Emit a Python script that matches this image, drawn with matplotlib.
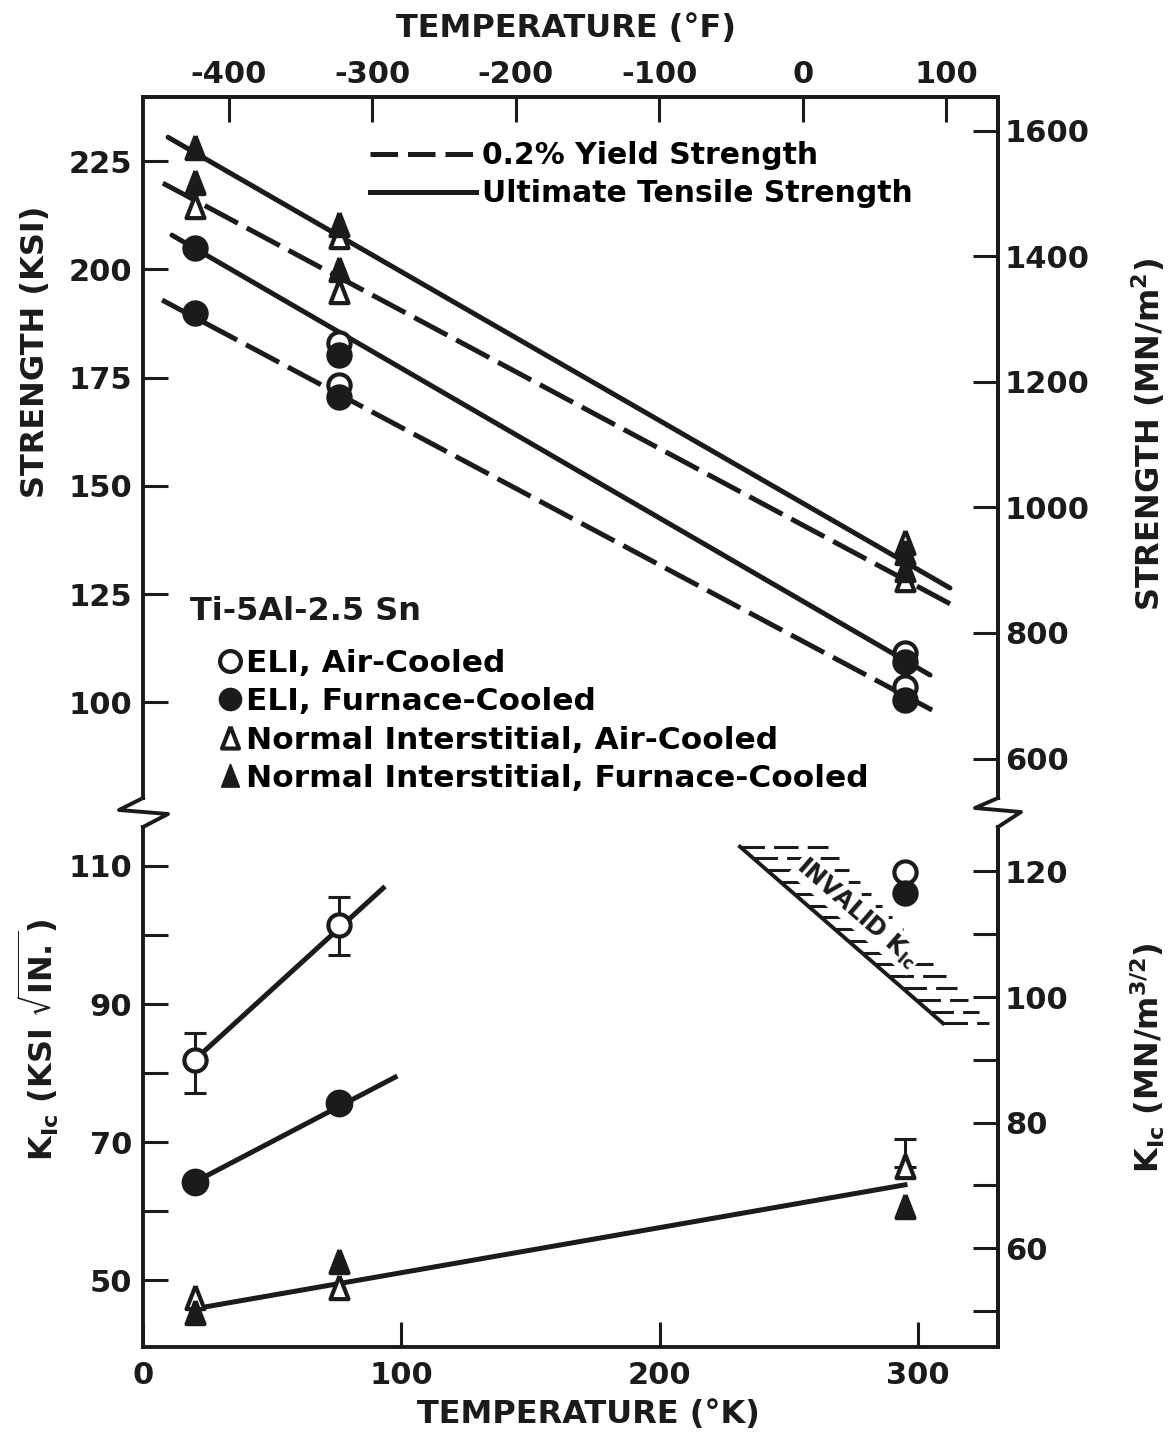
import numpy as np
import matplotlib
matplotlib.use("Agg")
import matplotlib.pyplot as plt
from matplotlib.lines import Line2D

plt.rcParams['font.family'] = ['DejaVu Sans']
plt.rcParams['font.weight'] = 'bold'
plt.rcParams['mathtext.fontset'] = 'dejavusans'
plt.rcParams['mathtext.default'] = 'bf'
plt.rcParams['axes.unicode_minus'] = False

# ---- data ----
# strength, ksi; temperatures in K
uts_eli_ac_T = [76, 295];        uts_eli_ac = [183.0, 111.4]
uts_eli_fc_T = [20, 76, 295];    uts_eli_fc = [204.9, 180.2, 109.3]
uts_ni_ac_T = [76, 295];         uts_ni_ac = [207.5, 136.8]
uts_ni_fc_T = [20, 76, 295];     uts_ni_fc = [228.0, 210.2, 134.5]
ys_eli_ac_T = [76, 295];         ys_eli_ac = [173.3, 103.5]
ys_eli_fc_T = [20, 76, 295];     ys_eli_fc = [189.9, 170.5, 100.5]
ys_ni_ac_T = [20, 76, 295];      ys_ni_ac = [214.4, 194.8, 128.2]
ys_ni_fc_T = [20, 76, 295];      ys_ni_fc = [220.0, 199.8, 130.5]

# fitted trend lines (end points)
uts_ni_line_T = [9.7, 312.4];    uts_ni_line = [230.5, 126.4]
ys_ni_line_T = [7.7, 313.2];     ys_ni_line = [219.9, 122.5]
uts_eli_line_T = [11.2, 304.7];  uts_eli_line = [207.9, 106.3]
ys_eli_line_T = [7.4, 305.5];    ys_eli_line = [192.9, 98.2]

# fracture toughness K_Ic, ksi*sqrt(in)
kic_eli_ac_T = [20, 76];         kic_eli_ac = [81.9, 101.4]
kic_eli_ac_lo = [77.1, 97.1];    kic_eli_ac_hi = [85.8, 105.5]
kic_eli_fc_T = [20, 76];         kic_eli_fc = [64.2, 75.7]
kic_ni_ac_T = [20, 76, 295];     kic_ni_ac = [47.4, 48.8, 66.4]
kic_ni_ac_hi295 = 70.4
kic_ni_fc_T = [20, 76, 295];     kic_ni_fc = [45.2, 52.6, 60.6]
invalid_T = [295];               invalid_ac = [109.1];  invalid_fc = [106.1]

kic_eli_ac_line_T = [20, 93];    kic_eli_ac_line = [81.9, 106.8]
kic_eli_fc_line_T = [20, 97.6];  kic_eli_fc_line = [64.2, 79.4]
kic_ni_line_T = [20.9, 295];     kic_ni_line = [45.9, 63.8]

invalid_edge_T = [231.1, 309.7]; invalid_edge = [112.8, 87.2]

strength_ticks = [100, 125, 150, 175, 200, 225]
mpa_ticks = [600, 800, 1000, 1200, 1400, 1600]
kic_ticks = [50, 70, 90, 110]
kic_minor = [60, 80, 100]
mpam_ticks = [60, 80, 100, 120]
mpam_minor = [50, 70, 90, 110]
tempF_ticks = [-400, -300, -200, -100, 0, 100]
tempK_ticks = [0, 100, 200, 300]

KSI_TO_MPA = 6.89476
KSIIN_TO_MPAM = 1.0988

INK = '#1b1b1b'
W, H = 1173, 1432
fig = plt.figure(figsize=(W / 100, H / 100), dpi=100)


def box(x0, y0, x1, y1):
    return [x0 / W, 1 - y1 / H, (x1 - x0) / W, (y1 - y0) / H]


def fx(x):
    return x / W


def fy(y):
    return 1 - y / H


ax1 = fig.add_axes(box(143, 97, 998, 798))
ax2 = fig.add_axes(box(143, 827, 998, 1347))

ax1.set_xlim(0, 331)
ax2.set_xlim(0, 331)
ax1.set_ylim(77.9, 239.8)
ax2.set_ylim(40.3, 115.65)

tri = [(0, 1.0), (-0.72, -0.85), (0.72, -0.85), (0, 1.0)]
LW = 3.6
DASH = (0, (7.5, 2.0))


def pts(ax, x, y, marker, filled, ms):
    ax.plot(x, y, ls='none', marker=marker, ms=ms, mfc=INK if filled else 'white',
            mec=INK, mew=3.0, zorder=4 if filled else 3)


# strength lines
ax1.plot(uts_ni_line_T, uts_ni_line, color=INK, lw=LW, solid_capstyle='round', zorder=2)
ax1.plot(ys_ni_line_T, ys_ni_line, color=INK, lw=LW, ls=DASH, zorder=2)
ax1.plot(uts_eli_line_T, uts_eli_line, color=INK, lw=LW, solid_capstyle='round', zorder=2)
ax1.plot(ys_eli_line_T, ys_eli_line, color=INK, lw=LW, ls=DASH, zorder=2)

pts(ax1, uts_eli_ac_T, uts_eli_ac, 'o', False, 16)
pts(ax1, ys_eli_ac_T, ys_eli_ac, 'o', False, 16)
pts(ax1, uts_eli_fc_T, uts_eli_fc, 'o', True, 16)
pts(ax1, ys_eli_fc_T, ys_eli_fc, 'o', True, 16)
pts(ax1, uts_ni_ac_T, uts_ni_ac, tri, False, 18)
pts(ax1, ys_ni_ac_T, ys_ni_ac, tri, False, 18)
pts(ax1, uts_ni_fc_T, uts_ni_fc, tri, True, 18)
pts(ax1, ys_ni_fc_T, ys_ni_fc, tri, True, 18)

# toughness
ax2.plot(kic_eli_ac_line_T, kic_eli_ac_line, color=INK, lw=LW, zorder=2)
ax2.plot(kic_eli_fc_line_T, kic_eli_fc_line, color=INK, lw=LW, zorder=2)
ax2.plot(kic_ni_line_T, kic_ni_line, color=INK, lw=LW, zorder=2)

ax2.errorbar(kic_eli_ac_T, kic_eli_ac,
             yerr=[np.subtract(kic_eli_ac, kic_eli_ac_lo), np.subtract(kic_eli_ac_hi, kic_eli_ac)],
             fmt='none', ecolor=INK, elinewidth=2.2, capsize=8, capthick=2.2, zorder=2.5)
ax2.errorbar([kic_ni_ac_T[-1]], [kic_ni_ac[-1]], yerr=[[0], [kic_ni_ac_hi295 - kic_ni_ac[-1]]],
             fmt='none', ecolor=INK, elinewidth=2.2, capsize=8, capthick=2.2, zorder=2.5)

pts(ax2, kic_eli_ac_T, kic_eli_ac, 'o', False, 16)
pts(ax2, invalid_T, invalid_ac, 'o', False, 16)
pts(ax2, kic_eli_fc_T, kic_eli_fc, 'o', True, 17)
pts(ax2, invalid_T, invalid_fc, 'o', True, 16)
pts(ax2, kic_ni_ac_T, kic_ni_ac, tri, False, 18)
pts(ax2, kic_ni_fc_T, kic_ni_fc, tri, True, 18)

# invalid K_Ic region: edge plus short horizontal hatches
ax2.plot(invalid_edge_T, invalid_edge, color=INK, lw=2.8, zorder=2)
n_hatch = 16
for i in range(n_hatch):
    t = i / (n_hatch - 1)
    x0 = invalid_edge_T[0] + t * (invalid_edge_T[1] - invalid_edge_T[0])
    y0 = invalid_edge[0] + t * (invalid_edge[1] - invalid_edge[0])
    length = 34 - 16 * t
    ax2.plot([x0, x0 + length], [y0, y0], color=INK, lw=2.2, ls=(0, (8, 3)), zorder=1.5)
ax2.text(276.5, 103.2, r'INVALID K$_{Ic}$', rotation=-41, fontsize=17, color=INK,
         ha='center', va='center', zorder=1.8,
         bbox=dict(facecolor='white', edgecolor='none', pad=1.5))

# ---- axes styling ----
tk = dict(direction='in', length=18, width=2.2, colors=INK, labelsize=22)
for ax in (ax1, ax2):
    for s in ax.spines.values():
        s.set_linewidth(2.8)
        s.set_color(INK)
ax1.spines['bottom'].set_visible(False)
ax2.spines['top'].set_visible(False)

ax1.tick_params(axis='x', which='both', bottom=False, top=False, labelbottom=False)
ax1.set_yticks(strength_ticks)
ax1.tick_params(axis='y', left=True, right=False, pad=8, **tk)

ax2.set_xticks(tempK_ticks)
ax2.tick_params(axis='x', bottom=True, top=False, pad=10, **tk)
ax2.set_yticks(kic_ticks)
ax2.set_yticks(kic_minor, minor=True)
ax2.tick_params(axis='y', which='both', left=True, right=False, pad=8, **tk)

s1y = ax1.secondary_yaxis('right', functions=(lambda v: v * KSI_TO_MPA, lambda v: v / KSI_TO_MPA))
s1y.set_yticks(mpa_ticks)
s1y.tick_params(pad=5, **tk)
s1y.spines['right'].set_linewidth(2.8)

s1x = ax1.secondary_xaxis('top', functions=(lambda k: k * 9 / 5 - 459.67, lambda f: (f + 459.67) * 5 / 9))
s1x.set_xticks(tempF_ticks)
s1x.tick_params(pad=6, **tk)
s1x.spines['top'].set_linewidth(2.8)

s2y = ax2.secondary_yaxis('right', functions=(lambda v: v * KSIIN_TO_MPAM, lambda v: v / KSIIN_TO_MPAM))
s2y.set_yticks(mpam_ticks)
s2y.set_yticks(mpam_minor, minor=True)
s2y.tick_params(which='both', pad=5, **tk)
s2y.spines['right'].set_linewidth(2.8)

# axis break marks
for xs, ys in (([143, 119, 168, 143], [798, 810, 814, 827]),
               ([998, 975, 1021, 998], [798, 808, 812, 827])):
    fig.add_artist(Line2D([fx(v) for v in xs], [fy(v) for v in ys], color=INK, lw=2.8))

# axis titles
lab = dict(fontsize=23, color=INK, ha='center', va='center')
fig.text(fx(566), fy(28), 'TEMPERATURE (°F)', **lab)
fig.text(fx(588), fy(1414), 'TEMPERATURE (°K)', **lab)
fig.text(fx(36), fy(352), 'STRENGTH (KSI)', rotation=90, **lab)
fig.text(fx(1148), fy(434), r'STRENGTH (MN/m$^2$)', rotation=90, **lab)
fig.text(fx(38), fy(1040), r'K$_{Ic}$ (KSI $\sqrt{IN.}$)', rotation=90, **lab)
fig.text(fx(1148), fy(1058), r'K$_{Ic}$ (MN/m$^{3/2}$)', rotation=90, **lab)

# legends
h1 = [Line2D([], [], color=INK, lw=LW, ls=(0, (5.5, 2.0))),
      Line2D([], [], color=INK, lw=LW)]
leg1 = ax1.legend(h1, ['0.2% Yield Strength', 'Ultimate Tensile Strength'],
                  loc='upper left', bbox_to_anchor=(fx(370), fy(141)), bbox_transform=fig.transFigure,
                  frameon=False, fontsize=21.5, handlelength=3.55, handletextpad=0.2,
                  labelspacing=0.3, borderpad=0, borderaxespad=0)
ax1.add_artist(leg1)

ax1.text(fx(190), fy(612), 'Ti-5Al-2.5 Sn', transform=fig.transFigure, fontsize=23,
         color=INK, ha='left', va='center')
h2 = [Line2D([], [], ls='none', marker='o', ms=15, mfc='white', mec=INK, mew=3),
      Line2D([], [], ls='none', marker='o', ms=16, mfc=INK, mec=INK),
      Line2D([], [], ls='none', marker=tri, ms=17, mfc='white', mec=INK, mew=3),
      Line2D([], [], ls='none', marker=tri, ms=18, mfc=INK, mec=INK)]
leg2 = ax1.legend(h2, ['ELI, Air-Cooled', 'ELI, Furnace-Cooled',
                       'Normal Interstitial, Air-Cooled', 'Normal Interstitial, Furnace-Cooled'],
                  loc='upper left', bbox_to_anchor=(fx(219), fy(649)), bbox_transform=fig.transFigure,
                  frameon=False, fontsize=22.5, handlelength=0.7, handletextpad=0.15,
                  labelspacing=0.3, borderpad=0, borderaxespad=0)

fig.savefig('out.png', dpi=100, facecolor='white')
